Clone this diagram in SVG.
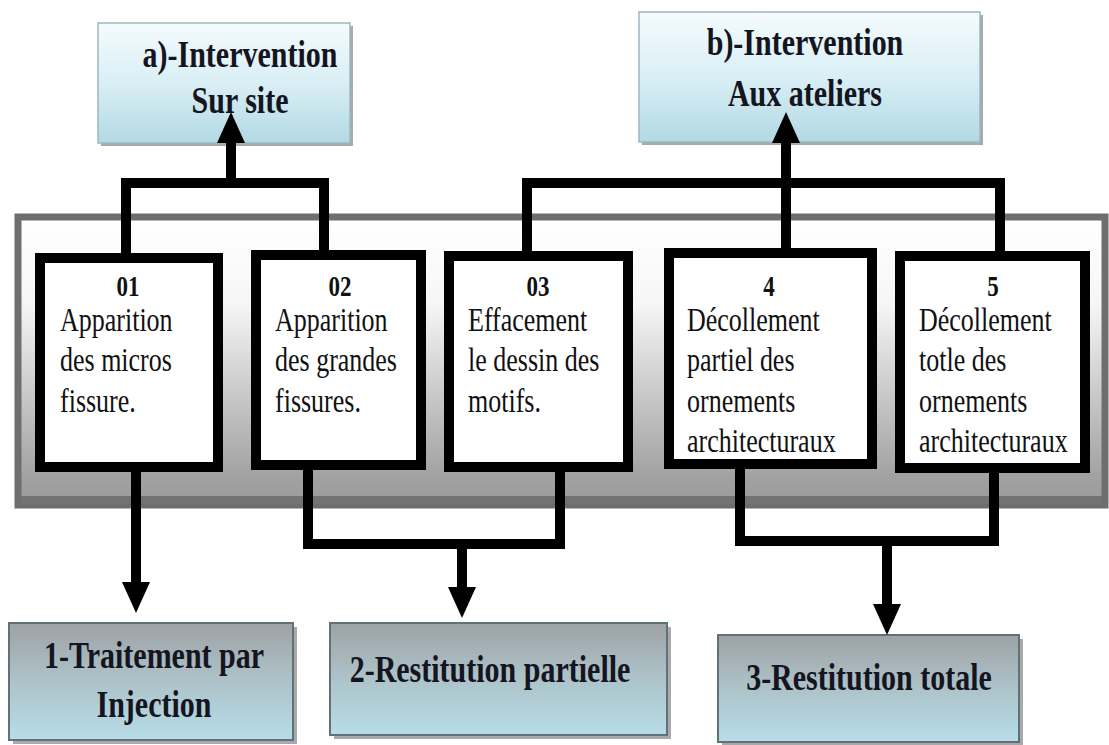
<svg xmlns="http://www.w3.org/2000/svg" width="1109" height="745" viewBox="0 0 1109 745">
<defs>
<linearGradient id="topGrad" x1="0" y1="0" x2="0" y2="1">
<stop offset="0" stop-color="#f4fbfd"/>
<stop offset="0.5" stop-color="#d9eff5"/>
<stop offset="1" stop-color="#b2d9e4"/>
</linearGradient>
<linearGradient id="botGrad" x1="0" y1="0" x2="0" y2="1">
<stop offset="0" stop-color="#9da2a5"/>
<stop offset="0.45" stop-color="#acc0c6"/>
<stop offset="1" stop-color="#b7dde8"/>
</linearGradient>
<linearGradient id="panelGrad" x1="0" y1="0" x2="0" y2="1">
<stop offset="0" stop-color="#ffffff"/>
<stop offset="0.3" stop-color="#f6f6f6"/>
<stop offset="0.7" stop-color="#bdbdbd"/>
<stop offset="0.9" stop-color="#a2a2a2"/>
<stop offset="1" stop-color="#9a9a9a"/>
</linearGradient>
<marker id="ah" markerUnits="userSpaceOnUse" markerWidth="31" markerHeight="28" refX="0" refY="14" orient="auto" viewBox="0 0 31 28">
<path d="M0,0 L31,14 L0,28 Z" fill="#000"/>
</marker>
</defs>
<style>
.topbox{fill:url(#topGrad);stroke:#9ab8c2;stroke-width:1.5}
.botbox{fill:url(#botGrad);stroke:#5f7278;stroke-width:2}
.shadow{fill:#a9a9a9}
.node{fill:#ffffff;stroke:#000;stroke-width:10}
.t{font-family:"Liberation Serif","Times New Roman",serif;fill:#111}
.b{font-weight:bold}
.num{font-family:"Liberation Serif","Times New Roman",serif;font-weight:bold;font-size:23px;text-anchor:middle;fill:#111}
.nt{font-family:"Liberation Serif","Times New Roman",serif;font-size:26px;fill:#111}
.big{font-family:"Liberation Serif","Times New Roman",serif;font-weight:bold;font-size:30px;text-anchor:middle;fill:#15151f}
.conn{fill:none;stroke:#000;stroke-width:10;stroke-linejoin:miter}
</style>

<g id="top-a">
<rect class="shadow" x="101" y="26" width="252" height="120"/>
<rect class="topbox" x="98" y="23" width="252" height="120"/>
<text class="big" transform="translate(240,67) scale(1,1.27)">a)-Intervention</text>
<text class="big" transform="translate(240,113) scale(1,1.27)">Sur site</text>
</g>

<g id="top-b">
<rect class="shadow" x="642" y="15" width="341" height="130"/>
<rect class="topbox" x="639" y="12" width="341" height="130"/>
<text class="big" transform="translate(805,55) scale(1,1.27)">b)-Intervention</text>
<text class="big" transform="translate(805,106) scale(1,1.27)">Aux ateliers</text>
</g>

<g id="panel">
<rect x="18" y="217" width="1087" height="288" fill="url(#panelGrad)" stroke="#6e6e6e" stroke-width="7"/>
<rect x="21" y="496" width="1081" height="8" fill="#737373"/>
</g>

<g id="node-01">
<rect class="node" x="40" y="258" width="178" height="209"/>
<text class="num" transform="translate(128,296) scale(1,1.3)">01</text>
<text class="nt" transform="translate(60,331) scale(1,1.3)">Apparition</text>
<text class="nt" transform="translate(60,371) scale(1,1.3)">des micros</text>
<text class="nt" transform="translate(60,412) scale(1,1.3)">fissure.</text>
</g>

<g id="node-02">
<rect class="node" x="256" y="255" width="165" height="210"/>
<text class="num" transform="translate(340,296) scale(1,1.3)">02</text>
<text class="nt" transform="translate(275,331) scale(1,1.3)">Apparition</text>
<text class="nt" transform="translate(275,371) scale(1,1.3)">des grandes</text>
<text class="nt" transform="translate(275,412) scale(1,1.3)">fissures.</text>
</g>

<g id="node-03">
<rect class="node" x="449" y="256" width="179" height="211"/>
<text class="num" transform="translate(538,296) scale(1,1.3)">03</text>
<text class="nt" transform="translate(468,331) scale(1,1.3)">Effacement</text>
<text class="nt" transform="translate(468,371) scale(1,1.3)">le dessin des</text>
<text class="nt" transform="translate(468,412) scale(1,1.3)">motifs.</text>
</g>

<g id="node-4">
<rect class="node" x="669" y="253" width="203" height="211"/>
<text class="num" transform="translate(769,296) scale(1,1.3)">4</text>
<text class="nt" transform="translate(687,331) scale(1,1.3)">Décollement</text>
<text class="nt" transform="translate(687,371) scale(1,1.3)">partiel des</text>
<text class="nt" transform="translate(687,412) scale(1,1.3)">ornements</text>
<text class="nt" transform="translate(687,452) scale(1,1.3)">architecturaux</text>
</g>

<g id="node-5">
<rect class="node" x="900" y="256" width="185" height="212"/>
<text class="num" transform="translate(993,296) scale(1,1.3)">5</text>
<text class="nt" transform="translate(919,331) scale(1,1.3)">Décollement</text>
<text class="nt" transform="translate(919,371) scale(1,1.3)">totle des</text>
<text class="nt" transform="translate(919,412) scale(1,1.3)">ornements</text>
<text class="nt" transform="translate(919,452) scale(1,1.3)">architecturaux</text>
</g>

<g id="res-1">
<rect class="shadow" x="13" y="627" width="284" height="117"/>
<rect class="botbox" x="9" y="623" width="284" height="117"/>
<text class="big" transform="translate(154,668) scale(1,1.27)">1-Traitement par</text>
<text class="big" transform="translate(154,717) scale(1,1.27)">Injection</text>
</g>

<g id="res-2">
<rect class="shadow" x="334" y="627" width="337" height="112"/>
<rect class="botbox" x="330" y="623" width="337" height="112"/>
<text class="big" transform="translate(490,682) scale(1,1.27)">2-Restitution partielle</text>
</g>

<g id="res-3">
<rect class="shadow" x="722" y="639" width="301" height="106"/>
<rect class="botbox" x="718" y="635" width="301" height="107"/>
<text class="big" transform="translate(869,690) scale(1,1.27)">3-Restitution totale</text>
</g>

<g id="connectors">
<path class="conn" d="M126,253 V183 H324 V250"/>
<path class="conn" d="M231,183 V143" marker-end="url(#ah)"/>
<path class="conn" d="M527,251 V183 H1000 V251"/>
<path class="conn" d="M786,248 V143" marker-end="url(#ah)"/>
<path class="conn" d="M136,472 V582" marker-end="url(#ah)"/>
<path class="conn" d="M308,470 V544 H560 V472"/>
<path class="conn" d="M462,544 V587" marker-end="url(#ah)"/>
<path class="conn" d="M740,469 V541 H994 V470"/>
<path class="conn" d="M887,541 V604" marker-end="url(#ah)"/>
</g>
</svg>
